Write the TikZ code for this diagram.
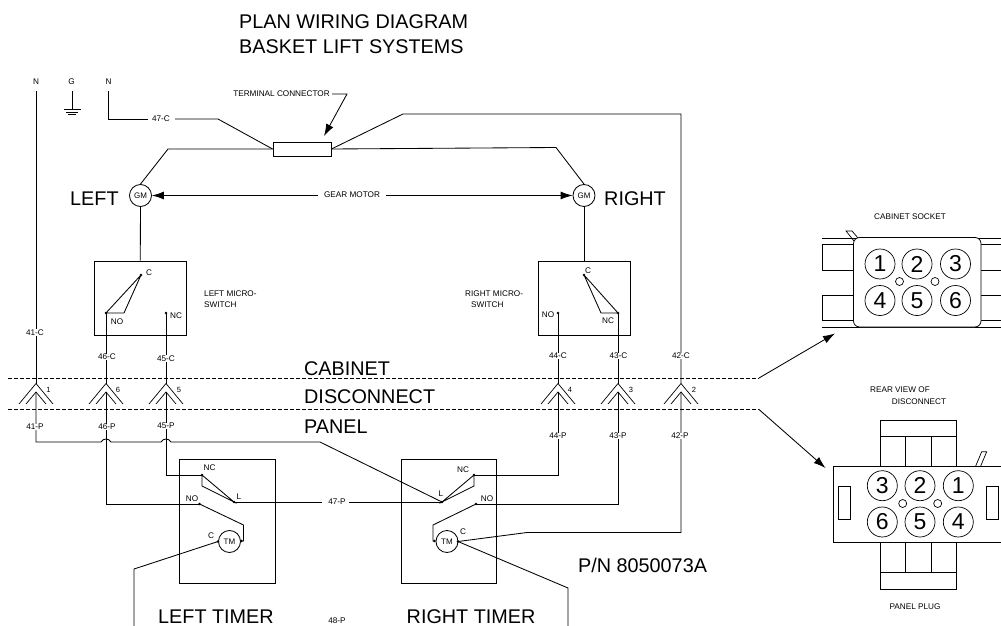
\documentclass[tikz,border=0pt]{standalone}
\usepackage{fontspec}
\setmainfont{Liberation Sans}
\usetikzlibrary{arrows.meta}
\newcommand{\fsz}[1]{\fontsize{#1}{#1}\selectfont}
\tikzset{
  wire/.style={line width=0.85pt,line join=miter},
  tiny/.style={inner sep=0pt,font=\fsz{8.2}},
  wl/.style={inner sep=0.4pt,fill=white,font=\fsz{8.2}},
  big/.style={inner sep=0pt,anchor=base west,font=\fsz{19.8}},
  motor/.style={draw,circle,line width=0.85pt,minimum size=22pt,inner sep=0pt,font=\fsz{8}},
  pin/.style={draw,circle,line width=0.7pt,minimum size=30pt,inner sep=0pt,font=\fsz{23}},
  hole/.style={draw,circle,line width=0.7pt,minimum size=8pt,inner sep=0pt},
  dot/.style={fill,circle,inner sep=0pt,minimum size=2.6pt},
  tip/.style={-{Latex[length=12pt,width=8pt]}},
  yconn/.pic={\draw[wire,line width=0.7pt] (-17,20.5)--(0,0)--(17,20.5);
              \draw[wire,line width=0.7pt] (-10,20.5)--(0,8.5)--(10,20.5);}
}
\begin{document}
\begin{tikzpicture}[x=1pt,y=-1pt]
\useasboundingbox (0,0) rectangle (1001,626);
\clip (0,0) rectangle (1001,626);
% titles
\node[big] (t1) at (239,28.5) {PLAN WIRING DIAGRAM};
\node[big] (t2) at (239,53.5) {BASKET LIFT SYSTEMS};
\node[big] (tcab) at (304,375.5) {CABINET};
\node[big] (tdis) at (304,403.5) {DISCONNECT};
\node[big] (tpan) at (304,433.5) {PANEL};
\node[big] (tleft) at (70,205.5) {LEFT};
\node[big] (tright) at (604,205.5) {RIGHT};
\node[big] (tlt) at (158,623) {LEFT TIMER};
\node[big] (trt) at (406.5,623) {RIGHT TIMER};
\node[big] (tpn) at (578,572.5) {P/N 8050073A};
% N, G, N
\node[tiny] (n1) at (36,82) {N};
\node[tiny] (g) at (71.5,82) {G};
\node[tiny] (n2) at (108.5,82) {N};
\coordinate (n1s) at (36,91);
\coordinate (gs) at (72,91);
\coordinate (gb) at (72,109);
\coordinate (n2s) at (108.5,91);
\draw[wire] (gs)--(gb);
\draw[wire] (63.5,109)--(80.5,109) (66,112)--(78,112) (68,114.5)--(76,114.5);
% terminal
\node[draw,wire,minimum width=58pt,minimum height=14pt,inner sep=0pt] (term) at (302,149) {};
\node[tiny] (termlab) at (281.5,94) {TERMINAL CONNECTOR};
\coordinate (termtip) at (324,136);
\draw[wire,tip] (332,94) -- (347,94) -- (termtip);
% motors
\node[motor] (gml) at (140.5,195.5) {GM};
\node[motor] (gmr) at (584,195.5) {GM};
\node[inner sep=0pt,font=\fsz{8.2}] (gear) at (352,195) {GEAR MOTOR};
\draw[wire,tip] (gear.west)++(-6,0.5) -- (gml.east);
\draw[wire,tip] (gear.east)++(6,0.5) -- (gmr.west);
% 47-C and feeds
\node[tiny] (l47c) at (161,119) {47-C};
\draw[wire] (n2s)--(108.5,119)--(148,119);
\draw[wire] (175,119)--(218,119)--(term.west);
\draw[wire] (term.west)--(168,149)--(gml.north);
\draw[wire] (term.east)--(556,147.5)--(gmr.north);
% micro switches
\node[draw,wire,minimum width=91.5pt,minimum height=74pt,inner sep=0pt] (swl) at (140.25,298) {};
\node[draw,wire,minimum width=92pt,minimum height=74pt,inner sep=0pt] (swr) at (584,298) {};
\draw[wire] (gml.south)--(swl.north);
\draw[wire] (gmr.south)--(swr.north);
\node[dot] (lc) at (141,275) {};
\node[dot] (lno) at (106,313) {};
\node[dot] (lnc) at (166,313) {};
\node[dot] (rc) at (584,275) {};
\node[dot] (rnc) at (618,313) {};
\node[dot] (rno) at (558,313) {};
\draw[wire] (lc.center)--(lno.center)--(124,313)--(lc.center);
\draw[wire] (rc.center)--(rnc.center)--(601,313)--(rc.center);
\node[tiny] at (149,273) {C};
\node[tiny] at (117,322) {NO};
\node[tiny] at (176,316) {NC};
\node[tiny] at (588,271) {C};
\node[tiny] at (608,321) {NC};
\node[tiny] at (548,315) {NO};
\node[tiny,anchor=west] at (204,294) {LEFT MICRO-};
\node[tiny,anchor=west] at (204,305) {SWITCH};
\node[tiny,anchor=west] at (465,294) {RIGHT MICRO-};
\node[tiny,anchor=west] at (471,305) {SWITCH};
% dashed
\coordinate (da) at (759,378);
\coordinate (db) at (759,409.5);
\draw[line width=0.8pt,dash pattern=on 4pt off 2pt] (8,378)--(da);
\draw[line width=0.8pt,dash pattern=on 4pt off 2pt] (8,409.5)--(db);
\coordinate (datip) at (835,333.5);
\coordinate (dbtip) at (825.5,468);
\draw[wire,tip] (da)--(datip);
\draw[wire,tip] (db)--(dbtip);
% Y connectors
\foreach \x/\n/\nx in {36/1/48.5,106/6/118,166/5/179,558/4/570,618/3/631,681/2/694}{
  \pic at (\x,383.5) {yconn};
  \coordinate (ca\n) at (\x,383.5);
  \coordinate (cb\n) at (\x,392);
  \node[inner sep=0pt,font=\fsz{7.5}] at (\nx,389.5) {\n};
}
% cabinet side wires
\draw[wire] (n1s)--(ca1);
\draw[wire] (lno.center)--(ca6);
\draw[wire] (lnc.center)--(ca5);
\draw[wire] (rno.center)--(ca4);
\draw[wire] (rnc.center)--(ca3);
\draw[wire] (term.east)--(403,114)--(681,114)--(ca2);
\node[wl] at (35,332.5) {41-C};
\node[wl] at (107,357) {46-C};
\node[wl] at (166,358.5) {45-C};
\node[wl] at (558,356) {44-C};
\node[wl] at (618.5,356) {43-C};
\node[wl] at (681,356) {42-C};
% timers
\node[draw,wire,minimum width=95.5pt,minimum height=123.5pt,inner sep=0pt] (tl) at (227.25,521.25) {};
\node[draw,wire,minimum width=95.5pt,minimum height=123.5pt,inner sep=0pt] (tr) at (448.75,521.25) {};
\node[motor] (tml) at (229.5,541.5) {TM};
\node[motor] (tmr) at (447,541.5) {TM};
\node[dot] (lL) at (234,502) {};
\node[dot] (lNC) at (202,475) {};
\node[dot] (lNO) at (199.5,504) {};
\node[dot] (lm1) at (218,541.5) {};
\node[dot] (lm2) at (241.5,541) {};
\node[dot] (rL) at (442,502) {};
\node[dot] (rNC) at (474,475) {};
\node[dot] (rNO) at (476,504) {};
\node[dot] (rm1) at (458,541.5) {};
\node[dot] (rm2) at (434.5,541) {};
\node[tiny] at (209.5,468) {NC};
\node[tiny] at (192,499) {NO};
\node[tiny] at (239,497) {L};
\node[tiny] at (211,536) {C};
\node[tiny] at (463,470) {NC};
\node[tiny] at (487,499) {NO};
\node[tiny] at (441,494) {L};
\node[tiny] at (463,532) {C};
\node[tiny] (l47p) at (337,502) {47-P};
\node[tiny] at (337,620.5) {48-P};
% panel side wires
\draw[wire] (cb1)--(36,442)--(101,442) .. controls (103,438) and (109,438) .. (111,442)
  --(161,442) .. controls (163,438) and (169,438) .. (171,442)--(320,442)--(rL.center);
\draw[wire] (cb6)--(106,504)--(lNO.center);
\draw[wire] (cb5)--(166,475)--(lNC.center);
\draw[wire] (lNC.center)--(lL.center)--(202,486)--(lNC.center);
\draw[wire] (lL.center)--(322,502);
\draw[wire] (349,502)--(rL.center);
\draw[wire] (lNO.center)--(243.5,525)--(243.5,541)--(lm2.center);
\draw[wire] (lm1.center)--(134,569)--(134,630);
\draw[wire] (rNC.center)--(rL.center)--(474,486)--(rNC.center);
\draw[wire] (rNC.center)--(558,475)--(cb4);
\draw[wire] (rNO.center)--(618,504)--(cb3);
\draw[wire] (rNO.center)--(433,525)--(433,541)--(rm2.center);
\draw[wire] (rm1.center)--(527,532.5)--(681,532.5)--(cb2);
\draw[wire] (rm1.center)--(568,588)--(568,630);
\node[wl] at (35,427) {41-P};
\node[wl] at (107,427) {46-P};
\node[wl] at (166,426) {45-P};
\node[wl] at (558,436) {44-P};
\node[wl] at (618,436) {43-P};
\node[wl] at (680,436) {42-P};
% cabinet socket
\node[tiny] at (910,217) {CABINET SOCKET};
\draw[line width=0.7pt] (822,238)--(1001,238) (822,327)--(1001,327);
\draw[line width=0.7pt] (853.5,244.5)--(822,244.5)--(822,270)--(853.5,270);
\draw[line width=0.7pt] (853.5,295)--(822,295)--(822,320)--(853.5,320);
\draw[line width=0.7pt] (981,244.5)--(1001,244.5) (981,270)--(1001,270) (981,295)--(1001,295) (981,320)--(1001,320);
\draw[line width=0.7pt] (854,241)--(846,231)--(852,231)--(858,238);
\draw[line width=0.8pt,fill=white,rounded corners=6pt] (853.5,237.5) rectangle (981,327);
\foreach \x/\y/\n in {880/264/1,917/264/2,955.5/264/3,880/300.5/4,917/300.5/5,955.5/300.5/6}
  \node[pin] (sk\n) at (\x,\y) {\n};
\node[hole] (skh1) at (899.5,281.5) {};
\node[hole] (skh2) at (935,281.5) {};
% panel plug
\node[tiny] at (900,390) {REAR VIEW OF};
\node[tiny] at (919,402) {DISCONNECT};
\draw[line width=0.7pt] (880,466)--(880,420.7)--(956.7,420.7)--(956.7,466) (880,436)--(956.7,436) (905,436)--(905,466) (931.7,436)--(931.7,466);
\draw[line width=0.7pt] (880,542.7)--(880,589)--(956.7,589)--(956.7,542.7) (880,572)--(956.7,572) (905,542.7)--(905,572) (931.7,542.7)--(931.7,572);
\draw[line width=0.7pt] (975.7,466)--(981.7,451.7)--(986.7,451.7)--(980.7,466);
\draw[line width=0.8pt] (1002,466)--(833.7,466)--(833.7,542.7)--(1002,542.7);
\draw[line width=0.7pt] (838.7,486) rectangle (850,519.7);
\draw[line width=0.7pt] (986.7,486) rectangle (998,519.7);
\foreach \x/\y/\n in {882.3/485.7/3,920/485.7/2,958.3/485.7/1,882.3/522/6,920/522/5,958.3/522/4}
  \node[pin] (pl\n) at (\x,\y) {\n};
\node[hole] (plh1) at (902.7,503.5) {};
\node[hole] (plh2) at (937.7,503.5) {};
\node[tiny] at (915,607) {PANEL PLUG};
\end{tikzpicture}
\end{document}
